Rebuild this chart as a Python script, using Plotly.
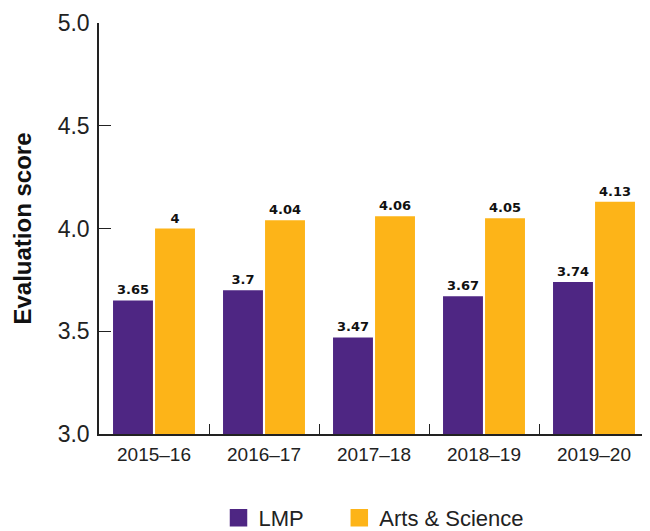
import plotly.graph_objects as go

years = ["2015–16", "2016–17", "2017–18", "2018–19", "2019–20"]
lmp = [3.65, 3.7, 3.47, 3.67, 3.74]
arts_science = [4.0, 4.04, 4.06, 4.05, 4.13]
lmp_labels = ["3.65", "3.7", "3.47", "3.67", "3.74"]
as_labels = ["4", "4.04", "4.06", "4.05", "4.13"]

PURPLE = "#4E2683"
GOLD = "#FDB418"
FONT = "Liberation Sans, Arial, sans-serif"
label_font = dict(family="DejaVu Sans", size=13, color="#111", weight="bold")

fig = go.Figure()
for name, vals, labels, color in [("LMP", lmp, lmp_labels, PURPLE),
                                  ("Arts & Science", arts_science, as_labels, GOLD)]:
    fig.add_trace(go.Bar(
        x=years, y=vals, name=name, marker=dict(color=color, line=dict(width=0)),
        text=labels, textposition="outside", cliponaxis=False, textfont=label_font,
        showlegend=False,
    ))
# legend entries with bigger square swatches (extra nbsp to widen the gap)
for name, color in [("LMP" + "&nbsp;" * 5, PURPLE), ("Arts & Science", GOLD)]:
    fig.add_trace(go.Scatter(
        x=[None], y=[None], mode="markers", name=name,
        marker=dict(symbol="square", size=16, color=color, line=dict(color=color, width=1.5)),
    ))

# page body has an 8px margin, so the figure is shrunk by 8px and margins shifted
fig.update_layout(
    width=642, height=523,
    margin=dict(l=91, r=1, t=15, b=97),
    plot_bgcolor="white", paper_bgcolor="white",
    font=dict(family=FONT, color="#222"),
    barmode="group", bargap=0.236, bargroupgap=0.05,
    showlegend=True,
    legend=dict(orientation="h", x=0.5, xanchor="center", yref="container", y=0.025, yanchor="middle",
                font=dict(size=22, color="#222")),
)
fig.update_xaxes(
    showline=True, linecolor="#222", linewidth=1.5, automargin=False,
    ticks="inside", tickson="boundaries", ticklen=10, tickcolor="#222",
    ticklabelstandoff=2,
    tickfont=dict(size=19, color="#222"), showgrid=False,
)
fig.update_yaxes(
    range=[3.0, 5.0], tickvals=[3.0, 3.5, 4.0, 4.5, 5.0], tickformat=".1f",
    showline=True, linecolor="#222", linewidth=1.5, automargin=False,
    ticks="inside", ticklen=12, tickcolor="#222", ticklabelstandoff=3,
    tickfont=dict(size=23, color="#222"), showgrid=False, zeroline=False,
    title=dict(text="<b>Evaluation score</b>", font=dict(size=24, color="#111"), standoff=19),
)

fig.write_html("out.html")
